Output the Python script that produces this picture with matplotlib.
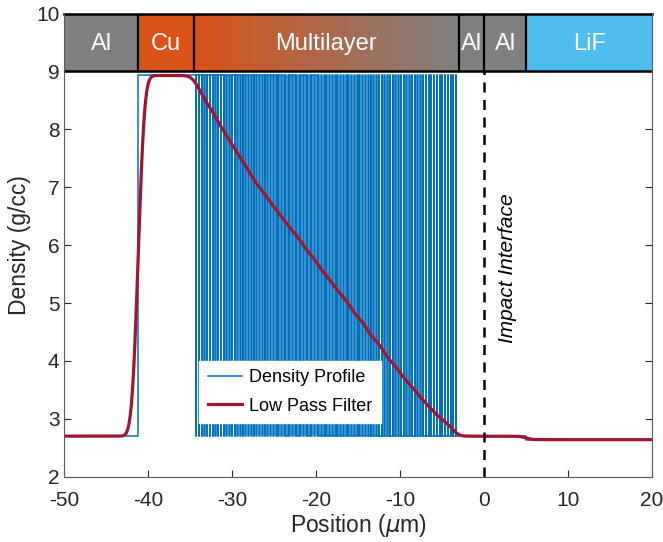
import matplotlib.pyplot as plt
import numpy as np

plt.rcParams["font.family"] = ["Liberation Sans", "DejaVu Sans"]
plt.rcParams["axes.unicode_minus"] = False

# Camadas do alvo (posições em µm)
layer_names = ["Al", "Cu", "Multilayer", "Al", "Al", "LiF"]
layer_edges = [-50, -41.2, -34.6, -3.0, 0.0, 5.0, 20.0]
layer_density = [2.70, 8.93, None, 2.70, 2.70, 2.64]

rho_cu = 8.93
rho_al = 2.70

cu_fraction = [
    0.97, 0.96, 0.95, 0.93, 0.92, 0.91, 0.90, 0.88, 0.87, 0.86,
    0.85, 0.83, 0.82, 0.81, 0.80, 0.78, 0.77, 0.76, 0.75, 0.73,
    0.72, 0.71, 0.70, 0.69, 0.68, 0.67, 0.66, 0.65, 0.64, 0.63,
    0.62, 0.61, 0.60, 0.59, 0.58, 0.57, 0.56, 0.55, 0.54, 0.53,
    0.52, 0.51, 0.50, 0.49, 0.48, 0.47, 0.46, 0.45, 0.44, 0.43,
    0.42, 0.41, 0.40, 0.39, 0.38, 0.37, 0.36, 0.35, 0.34, 0.33,
    0.32, 0.31, 0.30, 0.29, 0.28, 0.27, 0.26, 0.25, 0.24, 0.23,
    0.22, 0.21, 0.20, 0.19, 0.18, 0.17, 0.16, 0.15, 0.14, 0.13,
    0.12, 0.115, 0.11, 0.10, 0.09, 0.08, 0.07, 0.065, 0.06, 0.05,
    0.045, 0.04, 0.03, 0.025, 0.02, 0.01,
]

filter_sigma = 0.6  # largura do filtro passa-baixa (µm)

# cores estilo MATLAB
c_al = "#808080"
c_cu = "#D95319"
c_lif = "#4DBEEE"
c_blue = "#0072BD"
c_red = "#A2142F"
c_axis = "0.15"

# --- monta o perfil em degraus ---
edges = []
dens = []
for i, name in enumerate(layer_names):
    x0, x1 = layer_edges[i], layer_edges[i + 1]
    if name == "Multilayer":
        period = (x1 - x0) / len(cu_fraction)
        for j, f in enumerate(cu_fraction):
            start = x0 + j * period
            edges += [start, start + f * period]
            dens += [rho_cu, rho_al]
    else:
        edges.append(x0)
        dens.append(layer_density[i])
edges = np.array(edges)
dens = np.array(dens)

# --- filtro passa-baixa (gaussiano) ---
dx = 0.005
xg = np.arange(layer_edges[0], layer_edges[-1] + dx / 2, dx)
idx = np.searchsorted(edges, xg, side="right") - 1
yg = dens[np.clip(idx, 0, len(dens) - 1)]
kx = np.arange(-4 * filter_sigma, 4 * filter_sigma + dx / 2, dx)
kernel = np.exp(-0.5 * (kx / filter_sigma) ** 2)
kernel /= kernel.sum()
npad = len(kx) // 2
ypad = np.concatenate([np.full(npad, yg[0]), yg, np.full(npad, yg[-1])])
y_filt = np.convolve(ypad, kernel, mode="valid")

fig = plt.figure(figsize=(6.63, 5.42), dpi=100)
ax = fig.add_axes([0.097, 0.1205, 0.8865, 0.8545])

x_step = np.append(edges, layer_edges[-1])
y_step = np.append(dens, dens[-1])
ax.step(x_step, y_step, where="post", color=c_blue, lw=1.1, label="Density Profile")
ax.plot(xg, y_filt, color=c_red, lw=2.3, label="Low Pass Filter")

# linha da interface de impacto
ax.plot([0, 0], [2, 9], color="black", lw=1.8, ls=(0, (4, 3)))
ax.text(1.6, 5.6, "Impact Interface", rotation=90, ha="left", va="center",
        fontsize=15, style="italic")

# --- faixa com as camadas ---
band_colors = [c_al, c_cu, None, c_al, c_al, c_lif]
for i, name in enumerate(layer_names):
    x0, x1 = layer_edges[i], layer_edges[i + 1]
    if band_colors[i] is None:
        t = np.linspace(0, 1, 256)[:, None]
        c0 = np.array(plt.matplotlib.colors.to_rgb(c_cu))
        c1 = np.array(plt.matplotlib.colors.to_rgb(c_al))
        grad = (c0 * (1 - t) + c1 * t)[None, :, :]
        ax.imshow(grad, extent=[x0, x1, 9, 10], aspect="auto", zorder=1)
    else:
        ax.fill_between([x0, x1], 9, 10, color=band_colors[i], lw=0, zorder=1)
    ax.text((x0 + x1) / 2, 9.48, name, color="white", fontsize=17,
            ha="center", va="center", zorder=3)

for xb in layer_edges[1:-1]:
    ax.plot([xb, xb], [9, 10], color="black", lw=1.6, zorder=2)
ax.plot([layer_edges[0], layer_edges[-1]], [9, 9], color="black", lw=1.8, zorder=2)
ax.plot([layer_edges[0], layer_edges[-1]], [10, 10], color="black", lw=1.8,
        zorder=2, clip_on=False)

ax.set_xlim(-50, 20)
ax.set_ylim(2, 10)
ax.set_xticks(np.arange(-50, 21, 10))
ax.set_yticks(np.arange(2, 11, 1))
ax.tick_params(direction="in", length=5, labelsize=15, colors=c_axis,
               right=True, top=False)
ax.tick_params(axis="x", pad=10)
for s in ["left", "right", "bottom"]:
    ax.spines[s].set_color("0.35")
ax.spines["top"].set_visible(False)

ax.set_xlabel(r"Position ($\mu$m)", fontsize=16.5, color=c_axis, labelpad=2)
ax.set_ylabel("Density (g/cc)", fontsize=16.5, color=c_axis, labelpad=4)

leg = ax.legend(loc="lower left", bbox_to_anchor=(-33.9, 2.93),
                bbox_transform=ax.transData, fontsize=13, frameon=True,
                fancybox=False, edgecolor="white", framealpha=1,
                handlelength=1.9, borderaxespad=0, borderpad=0.45,
                labelspacing=0.65, handletextpad=0.4)

plt.savefig("out.png", dpi=100)
